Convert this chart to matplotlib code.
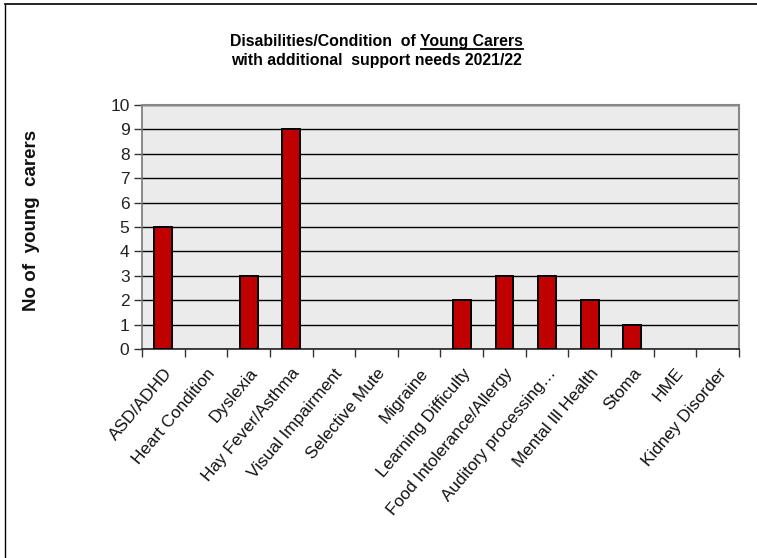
import matplotlib
matplotlib.use("Agg")
import matplotlib.pyplot as plt
from matplotlib.lines import Line2D

categories = ["ASD/ADHD", "Heart Condition", "Dyslexia", "Hay Fever/Asthma",
              "Visual Impairment", "Selective Mute", "Migraine",
              "Learning Difficulty", "Food Intolerance/Allergy",
              "Auditory processing\u2026", "Mental Ill Health", "Stoma", "HME",
              "Kidney Disorder"]
counts = [5, 0, 3, 9, 0, 0, 0, 2, 3, 3, 2, 1, 0, 0]
y_ticks = list(range(0, 11))

plt.rcParams["font.family"] = ["Liberation Sans", "DejaVu Sans"]

W, H = 757, 558
fig = plt.figure(figsize=(W / 100, H / 100), dpi=100)

# outer frame (top and left edges visible)
fig.add_artist(Line2D([5 / W, 5 / W], [0, 1 - 4 / H], transform=fig.transFigure,
                      color="black", lw=1))
fig.add_artist(Line2D([5 / W, 1], [1 - 4 / H, 1 - 4 / H], transform=fig.transFigure,
                      color="black", lw=1.2))

left, right, top, bottom = 142, 739, 105, 349
ax = fig.add_axes([left / W, 1 - bottom / H, (right - left) / W, (bottom - top) / H])
ax.set_facecolor("#EBEBEB")

x = list(range(len(categories)))
bars = ax.bar(x, counts, width=0.42, color="#C00000", edgecolor="black",
              linewidth=1.4, zorder=3)
for b, v in zip(bars, counts):
    if v == 0:
        b.set_visible(False)

ax.set_xlim(-0.5, len(categories) - 0.5)
ax.set_ylim(0, 10)
ax.set_yticks(y_ticks)
ax.set_yticklabels([str(t) for t in y_ticks], fontsize=12.5, color="#222222")
ax.yaxis.grid(True, color="black", linewidth=1, zorder=1)
ax.set_axisbelow(True)

ax.set_xticks([i - 0.5 for i in range(len(categories) + 1)])
ax.set_xticklabels([])
ax.set_xticks(x, minor=True)
ax.set_xticklabels(categories, minor=True, rotation=50, ha="right",
                   va="top", rotation_mode="anchor", fontsize=12.3,
                   color="#111111")
ax.tick_params(axis="x", which="minor", length=0, pad=12)
ax.tick_params(axis="x", which="major", length=6, width=1, color="#333333")
ax.tick_params(axis="y", length=6, width=1, color="#333333", pad=3)

for s in ["top", "right"]:
    ax.spines[s].set_color("#888888")
    ax.spines[s].set_linewidth(1.5)
ax.spines["left"].set_color("#777777")
ax.spines["left"].set_linewidth(1.2)
ax.spines["bottom"].set_color("#222222")
ax.spines["bottom"].set_linewidth(1.2)

# y-axis label
fig.text(31 / W, 1 - 220 / H, "No of  young  carers", rotation=90, ha="center",
         va="center", fontsize=13.5, fontweight="bold", color="#111111")

# two-line title, with "Young Carers" underlined
tsize = 11.4
t1a = fig.text(0, 0, "Disabilities/Condition  of ", fontsize=tsize,
               fontweight="bold", ha="left", va="baseline")
t1b = fig.text(0, 0, "Young Carers", fontsize=tsize, fontweight="bold",
               ha="left", va="baseline")
t2 = fig.text(376 / W, 1 - 65 / H, "with additional  support needs 2021/22",
              fontsize=tsize, fontweight="bold", ha="center", va="baseline")
fig.canvas.draw()
r = fig.canvas.get_renderer()
wa = t1a.get_window_extent(r).width
wb = t1b.get_window_extent(r).width
x0 = 376 - (wa + wb) / 2
base = H - 46
t1a.set_position((x0 / W, base / H))
t1b.set_position(((x0 + wa) / W, base / H))
fig.add_artist(Line2D([(x0 + wa + 1) / W, (x0 + wa + wb) / W],
                      [(base - 3) / H, (base - 3) / H],
                      transform=fig.transFigure, color="black", lw=1.3))

fig.savefig("out.png", dpi=100)
